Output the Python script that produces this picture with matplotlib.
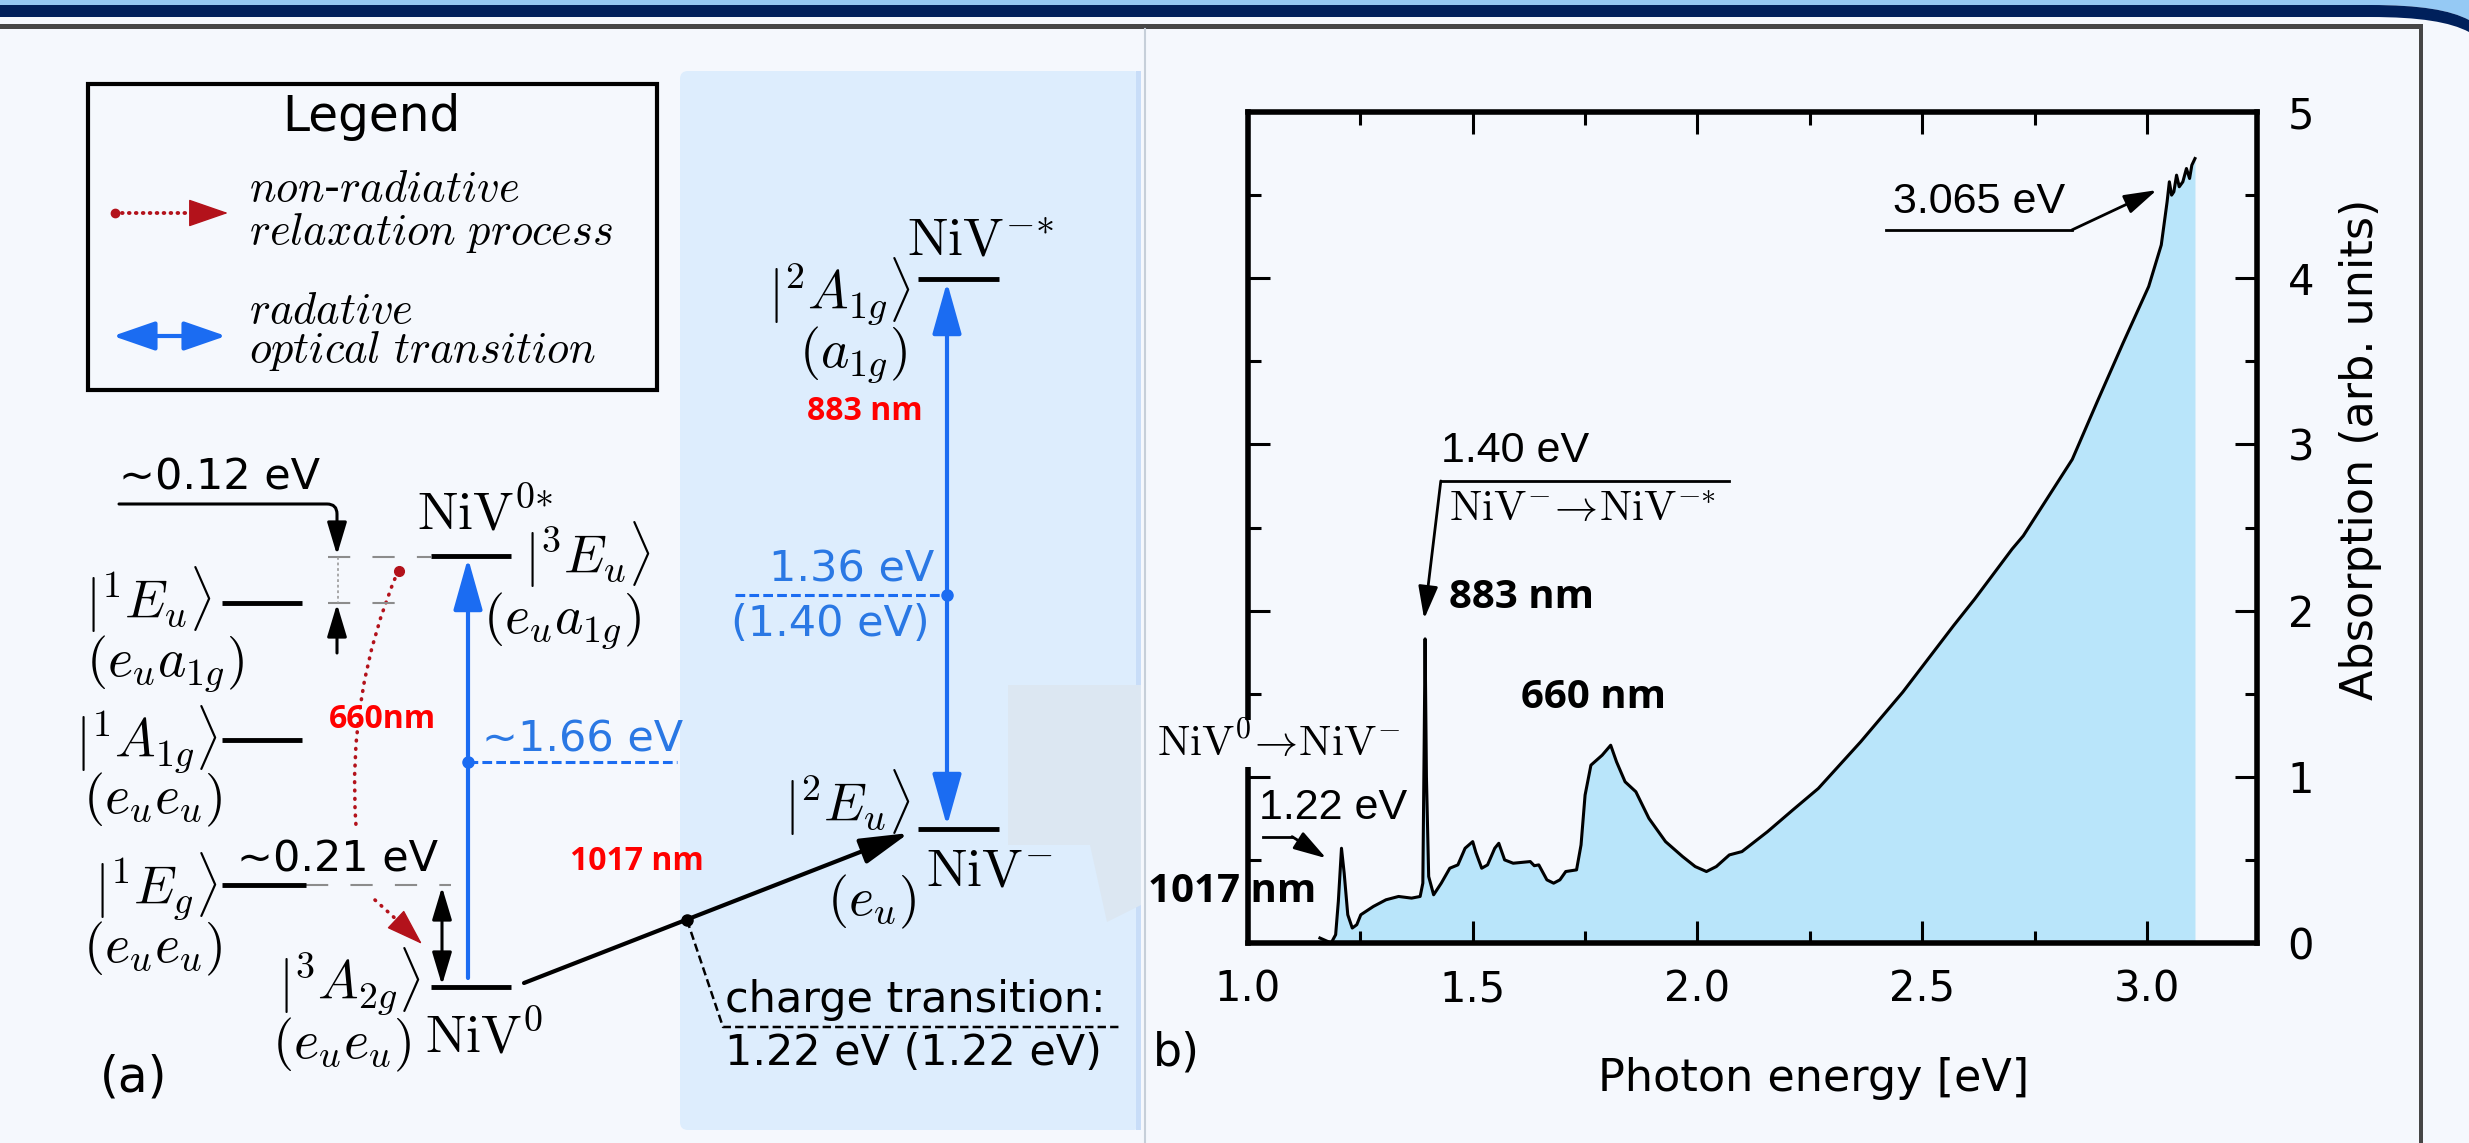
import matplotlib
matplotlib.use('Agg')
import matplotlib.pyplot as plt
from matplotlib.patches import Rectangle, FancyBboxPatch, Polygon, PathPatch, FancyArrowPatch
from matplotlib.path import Path
from matplotlib.ticker import MultipleLocator

plt.rcParams['font.family'] = ['DejaVu Sans']
plt.rcParams['mathtext.fontset'] = 'cm'
plt.rcParams['lines.scale_dashes'] = False

W, H, DPI = 2469, 1143, 100

# ---------------- absorption spectrum (panel b) ----------------
energy = [1.160, 1.185, 1.195, 1.201, 1.208, 1.214, 1.222, 1.232, 1.242, 1.251,
          1.279, 1.307, 1.335, 1.364, 1.383, 1.389, 1.392, 1.394, 1.397, 1.402,
          1.413, 1.430, 1.449, 1.467, 1.483, 1.500, 1.507, 1.520, 1.533, 1.549,
          1.558, 1.571, 1.590, 1.628, 1.637, 1.647, 1.665, 1.680, 1.694, 1.707,
          1.731, 1.741, 1.750, 1.763, 1.788, 1.807, 1.820, 1.839, 1.863, 1.892,
          1.929, 1.967, 1.995, 2.020, 2.042, 2.071, 2.099, 2.156, 2.212, 2.269,
          2.363, 2.457, 2.570, 2.617, 2.700, 2.725, 2.834, 2.890, 2.947, 3.004,
          3.032, 3.045, 3.050, 3.055, 3.060, 3.066, 3.072, 3.080, 3.088, 3.095,
          3.100, 3.107]
absorption = [0.03, 0.00, 0.05, 0.25, 0.57, 0.42, 0.17, 0.09, 0.11, 0.17,
              0.22, 0.26, 0.28, 0.27, 0.28, 0.36, 1.20, 1.83, 1.00, 0.40,
              0.29, 0.36, 0.45, 0.47, 0.57, 0.61, 0.545, 0.45, 0.47, 0.57,
              0.60, 0.50, 0.48, 0.49, 0.465, 0.47, 0.38, 0.36, 0.38, 0.43,
              0.44, 0.59, 0.89, 1.07, 1.13, 1.19, 1.09, 0.97, 0.91, 0.75,
              0.61, 0.52, 0.46, 0.43, 0.46, 0.53, 0.55, 0.67, 0.80, 0.93,
              1.21, 1.51, 1.91, 2.07, 2.37, 2.45, 2.91, 3.26, 3.61, 3.95,
              4.20, 4.46, 4.58, 4.50, 4.52, 4.62, 4.55, 4.58, 4.66, 4.60,
              4.68, 4.72]
x_ticks = [1.0, 1.5, 2.0, 2.5, 3.0]
x_ticklabels = ['1.0', '1.5', '2.0', '2.5', '3.0']
y_ticks = [0, 1, 2, 3, 4, 5]
y_ticklabels = ['0', '1', '2', '3', '4', '5']

# ---------------- level diagram (panel a), pixel layout ----------------
level_x0 = [431, 222, 222, 222, 431, 918, 918]
level_x1 = [511, 302, 302, 306, 511, 999, 999]
level_y = [556, 603, 740, 885, 987, 279, 829]

BG = '#f5f8fd'
PANEL = '#ddedfd'
BLUE = '#1b6cf2'
BLUE_TXT = '#2a78e4'
DARKRED = '#b3121b'
RED = '#ff0000'
FILL = '#b9e5fa'
NAVY = '#00205b'

fig = plt.figure(figsize=(W / DPI, H / DPI), dpi=DPI, facecolor=BG)
bg = fig.add_axes([0, 0, 1, 1])
bg.set_xlim(0, W)
bg.set_ylim(H, 0)
bg.axis('off')
bg.set_zorder(0)


def arrow(axis, start, end, style='-|>', color='black', lw=2.2, hl=1.0, hw=0.3, conn=None, z=3):
    kw = dict(arrowstyle=f'{style},head_length={hl},head_width={hw}', color=color, lw=lw,
              shrinkA=0, shrinkB=0, mutation_scale=20, zorder=z)
    if conn:
        kw['connectionstyle'] = conn
    p = FancyArrowPatch(posA=start, posB=end, **kw)
    axis.add_patch(p)
    p.set_clip_on(False)
    return p


# header strips
lb = Path([(0, 0), (W, 0), (W, 20), (2450, 10), (2420, 5), (2370, 5), (0, 5), (0, 0)],
          [Path.MOVETO, Path.LINETO, Path.LINETO, Path.CURVE4, Path.CURVE4, Path.CURVE4,
           Path.LINETO, Path.CLOSEPOLY])
bg.add_patch(PathPatch(lb, fc='#95c9f4', ec='none'))
nv = Path([(0, 5), (2370, 5), (2420, 5), (2450, 10), (W, 20), (W, 32),
           (2450, 22), (2420, 17), (2370, 17), (0, 17), (0, 5)],
          [Path.MOVETO, Path.LINETO, Path.CURVE4, Path.CURVE4, Path.CURVE4, Path.LINETO,
           Path.CURVE4, Path.CURVE4, Path.CURVE4, Path.LINETO, Path.CLOSEPOLY])
bg.add_patch(PathPatch(nv, fc=NAVY, ec='none'))
bg.add_patch(Rectangle((0, 24), 2423, 5, fc='#464646', ec='none'))
bg.add_patch(Rectangle((2419, 24), 4, H - 24, fc='#464646', ec='none'))

# blue panel and decorations
bg.add_patch(FancyBboxPatch((680, 71), 461, 1059, boxstyle='round,pad=0,rounding_size=8',
                            fc=PANEL, ec='none'))
bg.add_patch(Rectangle((1136, 71), 5, 1059, fc='#c8ddf8', ec='none'))
bg.plot([1145, 1145], [29, H], color='#c6cfd9', lw=1.5)
bg.add_patch(Polygon([(1008, 685), (1141, 685), (1141, 905), (1107, 922), (1090, 845), (1008, 845)],
                     fc='#dce7f2', ec='none'))

# legend box
bg.add_patch(Rectangle((88, 84), 569, 306, fill=False, ec='black', lw=3))
bg.text(371, 117, 'Legend', ha='center', va='center', fontsize=35)
bg.plot([115], [213], 'o', color=DARKRED, ms=6)
bg.plot([115, 205], [213, 213], color=DARKRED, lw=2.8, dashes=(0.5, 4.5), dash_capstyle='round')
arrow(bg, (198, 213), (228, 213), color=DARKRED, lw=1, hl=1.3, hw=0.45)
arrow(bg, (226, 336), (113, 336), style='<|-|>', color=BLUE, lw=3, hl=1.3, hw=0.45)
ital = dict(ha='left', va='center', fontsize=32)
bg.text(249, 189, r'$\mathit{non}$-$\mathit{radiative}$', **ital)
bg.text(249, 233, r'$\mathit{relaxation\ process}$', **ital)
bg.text(249, 310, r'$\mathit{radative}$', **ital)
bg.text(249, 351, r'$\mathit{optical\ transition}$', **ital)

# energy levels
for x0, x1, y in zip(level_x0, level_x1, level_y):
    bg.plot([x0, x1], [y, y], color='black', lw=3.5, solid_capstyle='butt', zorder=3)

# gray dashed extensions
gdash = dict(color='#8c8c8c', lw=1.5, dashes=(16, 16))
bg.plot([328, 431], [557, 557], **gdash)
bg.plot([328, 397], [603, 603], **gdash)
bg.plot([306, 451], [885, 885], **gdash)
bg.plot([338, 338], [557, 603], color='#9a9a9a', lw=1.2, dashes=(2, 2))

# ~0.12 eV marker
arrow(bg, (119, 504), (337, 555), conn='angle,angleA=0,angleB=90,rad=10')
arrow(bg, (337, 653), (337, 604))
bg.text(119, 478, '~0.12 eV', ha='left', va='center', fontsize=31)

# ~0.21 eV
bg.text(237, 860, '~0.21 eV', ha='left', va='center', fontsize=31)
arrow(bg, (442, 887), (442, 985), style='<|-|>')

# non radiative relaxation (red dotted)
bg.plot([399], [571], 'o', color=DARKRED, ms=7, zorder=4)
curve = FancyArrowPatch(posA=(398, 571), posB=(356, 826), connectionstyle='arc3,rad=0.12',
                        arrowstyle='-', color=DARKRED, lw=2.6, linestyle=(0, (0.5, 5.5)),
                        capstyle='round', shrinkA=0, shrinkB=0)
bg.add_patch(curve)
bg.plot([375, 410], [900, 932], color=DARKRED, lw=2.6, dashes=(0.5, 5.5), dash_capstyle='round')
arrow(bg, (405, 928), (422, 944), color=DARKRED, lw=1, hl=1.2, hw=0.4)
bg.text(329, 720, '660nm', ha='left', va='center', fontsize=23, color=RED,
        family='Open Sans', weight='bold')

# NiV0 optical transition (blue)
arrow(bg, (468, 978), (468, 558), color=BLUE, lw=3, hl=1.6, hw=0.45)
bg.plot([468, 677], [762, 762], color=BLUE, lw=2.2, dashes=(7, 3))
bg.plot([468], [762], 'o', color=BLUE, ms=8)
bg.text(482, 739, '~1.66 eV', ha='left', va='center', fontsize=31, color=BLUE_TXT)

# NiV- optical transition
arrow(bg, (947, 826), (947, 282), style='<|-|>', color=BLUE, lw=3, hl=1.6, hw=0.45)
bg.plot([735, 947], [595, 595], color=BLUE, lw=2.2, dashes=(7, 3))
bg.plot([947], [595], 'o', color=BLUE, ms=8)
bg.text(769, 570, '1.36 eV', ha='left', va='center', fontsize=31, color=BLUE_TXT)
bg.text(731, 624, '(1.40 eV)', ha='left', va='center', fontsize=31, color=BLUE_TXT)
bg.text(807, 411, '883 nm', ha='left', va='center', fontsize=23, color=RED,
        family='Open Sans', weight='bold')

# charge transition
arrow(bg, (524, 983), (909, 833), lw=3, hl=1.5, hw=0.4)
bg.plot([687], [920], 'o', color='black', ms=8)
bg.plot([687, 723, 1121], [920, 1027, 1027], color='black', lw=1.8, dashes=(6, 3))
bg.text(725, 1000, 'charge transition:', ha='left', va='center', fontsize=31)
bg.text(725, 1053, '1.22 eV (1.22 eV)', ha='left', va='center', fontsize=31)
bg.text(570, 862, '1017 nm', ha='left', va='center', fontsize=23, color=RED,
        family='Open Sans', weight='bold')

# state labels
MS = 39
bg.text(212, 600, r'$|^1E_u\rangle$', ha='right', va='center', fontsize=MS)
bg.text(165, 663, r'$(e_ua_{1g})$', ha='center', va='center', fontsize=MS)
bg.text(218, 739, r'$|^1A_{1g}\rangle$', ha='right', va='center', fontsize=MS)
bg.text(153, 800, r'$(e_ue_u)$', ha='center', va='center', fontsize=MS)
bg.text(218, 886, r'$|^1E_g\rangle$', ha='right', va='center', fontsize=MS)
bg.text(153, 949, r'$(e_ue_u)$', ha='center', va='center', fontsize=MS)
bg.text(421, 981, r'$|^3A_{2g}\rangle$', ha='right', va='center', fontsize=MS)
bg.text(342, 1045, r'$(e_ue_u)$', ha='center', va='center', fontsize=MS)
bg.text(425, 1038, r'$\mathrm{NiV}^0$', ha='left', va='center', fontsize=MS)
bg.text(417, 515, r'$\mathrm{NiV}^{0{*}}$', ha='left', va='center', fontsize=MS)
bg.text(524, 555, r'$|^3E_u\rangle$', ha='left', va='center', fontsize=MS)
bg.text(562, 620, r'$(e_ua_{1g})$', ha='center', va='center', fontsize=MS)
bg.text(911, 291, r'$|^2A_{1g}\rangle$', ha='right', va='center', fontsize=MS)
bg.text(853, 354, r'$(a_{1g})$', ha='center', va='center', fontsize=MS)
bg.text(907, 241, r'$\mathrm{NiV}^{-{*}}$', ha='left', va='center', fontsize=MS)
bg.text(911, 803, r'$|^2E_u\rangle$', ha='right', va='center', fontsize=MS)
bg.text(872, 902, r'$(e_u)$', ha='center', va='center', fontsize=MS)
bg.text(926, 871, r'$\mathrm{NiV}^{-}$', ha='left', va='center', fontsize=MS)

bg.text(100, 1078, '(a)', ha='left', va='center', fontsize=35)
bg.text(1153, 1053, 'b)', ha='left', va='center', fontsize=33)

# ---------------- spectrum axes ----------------
ax = fig.add_axes([1248 / W, 1 - 943 / H, 1009 / W, 831 / H])
ax.set_facecolor('none')
ax.set_zorder(1)
ax.fill_between(energy, absorption, 0, color=FILL, lw=0, zorder=1)
ax.plot(energy, absorption, color='black', lw=2.2, zorder=2)
ax.set_xlim(1.0, 3.245)
ax.set_ylim(0, 5)
ax.set_xticks(x_ticks)
ax.set_xticklabels(x_ticklabels)
ax.set_yticks(y_ticks)
ax.set_yticklabels(y_ticklabels)
ax.xaxis.set_minor_locator(MultipleLocator(0.25))
ax.yaxis.set_minor_locator(MultipleLocator(0.5))
ax.tick_params(which='both', direction='in', top=True, bottom=True, left=True, right=True,
               labelleft=False, labelright=True, width=2.2)
ax.tick_params(which='major', length=16, labelsize=30)
ax.tick_params(which='minor', length=9)
ax.tick_params(axis='x', pad=18)
ax.tick_params(axis='y', pad=22)
for s in ax.spines.values():
    s.set_linewidth(4)

sans_n = 'Liberation Sans'
ax.plot([2.419, 2.833], [4.29, 4.29], color='black', lw=2, clip_on=False)
arrow(ax, (2.833, 4.29), (3.022, 4.53), lw=2)
ax.text(2.626, 4.46, '3.065 eV', ha='center', va='center', fontsize=31, family=sans_n)

ax.plot([1.429, 2.07], [2.78, 2.78], color='black', lw=2)
arrow(ax, (1.429, 2.78), (1.392, 1.95), lw=2)
ax.text(1.43, 2.96, '1.40 eV', ha='left', va='center', fontsize=31, family=sans_n)
ax.text(1.447, 2.61, r'$\mathrm{NiV}^{-}\!\rightarrow\!\mathrm{NiV}^{-{*}}$', ha='left',
        va='center', fontsize=31)
ax.text(1.447, 2.08, '883 nm', ha='left', va='center', fontsize=29, family='Open Sans',
        weight='bold')
ax.text(1.607, 1.48, '660 nm', ha='left', va='center', fontsize=29, family='Open Sans',
        weight='bold')
ax.text(0.798, 1.20, r'$\mathrm{NiV}^{0}\!\rightarrow\!\mathrm{NiV}^{-}$', ha='left', va='center',
        fontsize=31, clip_on=False, zorder=5,
        bbox=dict(boxstyle='square,pad=0.05', fc=BG, ec='none'))
ax.text(1.024, 0.81, '1.22 eV', ha='left', va='center', fontsize=31, family=sans_n, clip_on=False)
ax.plot([1.033, 1.098], [0.64, 0.64], color='black', lw=2, clip_on=False)
arrow(ax, (1.098, 0.64), (1.174, 0.51), lw=2)
ax.text(0.778, 0.31, '1017 nm', ha='left', va='center', fontsize=29, family='Open Sans',
        weight='bold', clip_on=False, zorder=5)

fig.text(2360 / W, 1 - 449 / H, 'Absorption (arb. units)', rotation=90, ha='center', va='center',
         fontsize=32)
fig.text(1814 / W, 1 - 1078 / H, 'Photon energy [eV]', ha='center', va='center', fontsize=32)

fig.savefig('out.png', dpi=DPI, facecolor=BG)
